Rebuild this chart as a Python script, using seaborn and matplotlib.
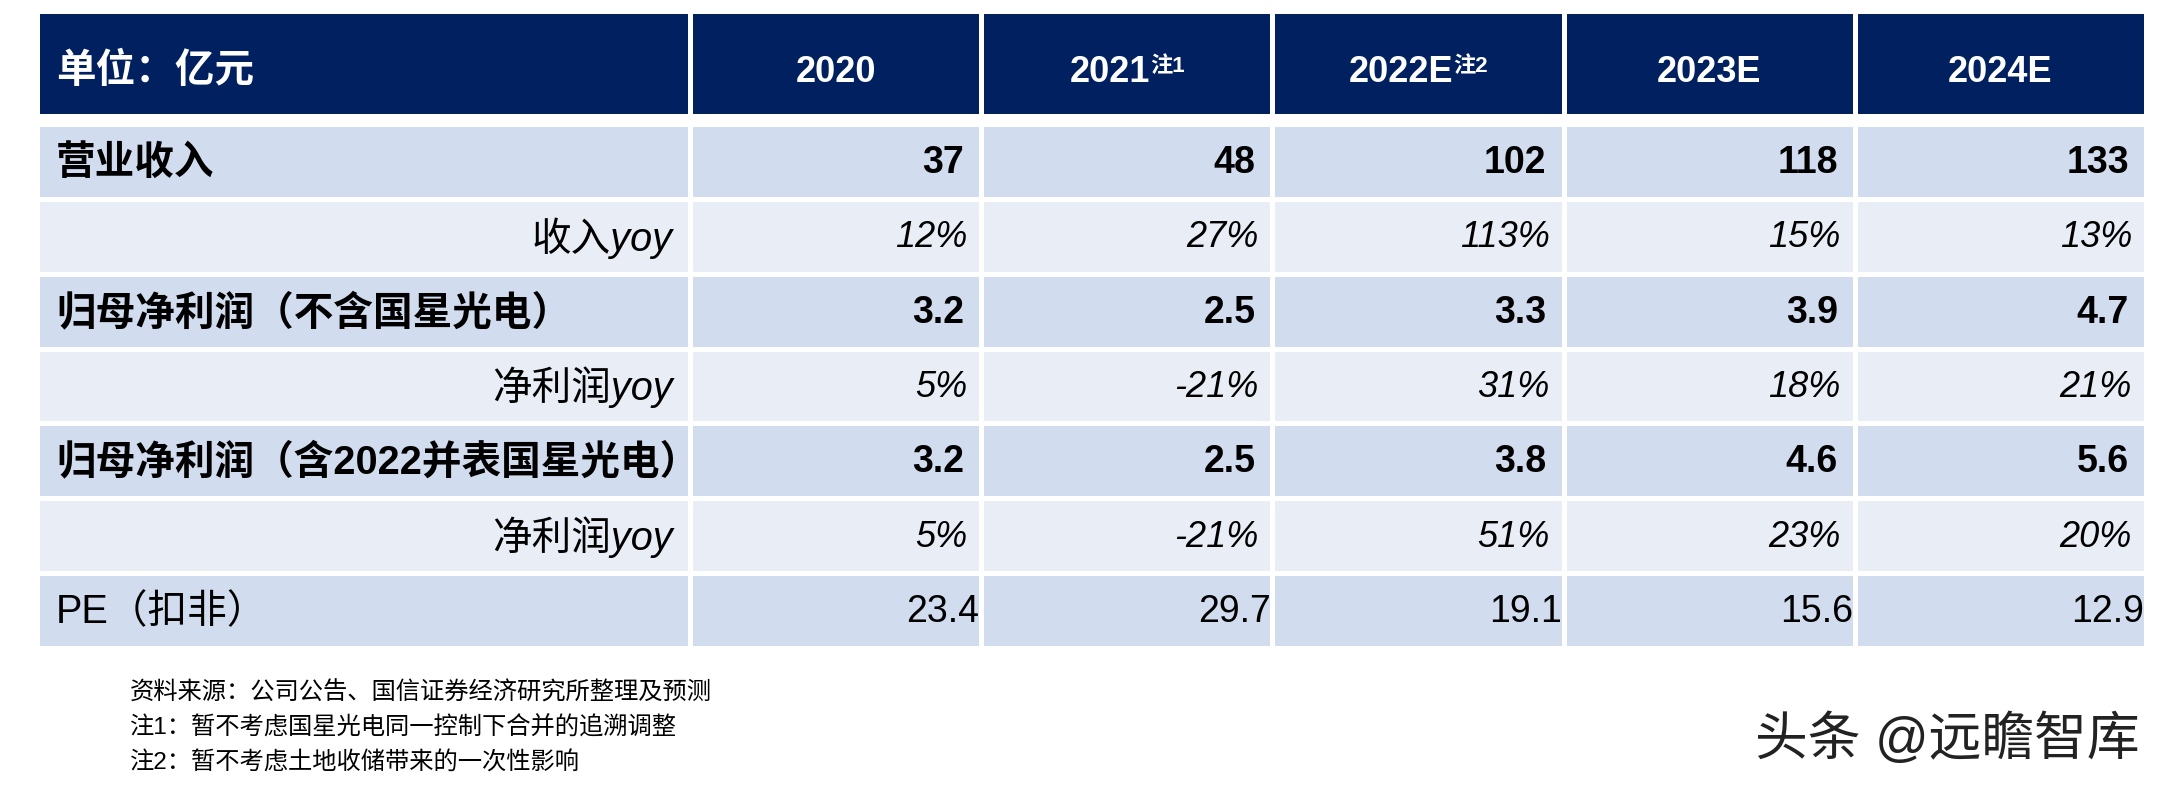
import numpy as np
import pandas as pd
import matplotlib
matplotlib.use("Agg")
import matplotlib.pyplot as plt
from matplotlib.colors import ListedColormap
import seaborn as sns

# ---------------- data ----------------
header_label = "单位：亿元"
years = ["2020", "2021", "2022E", "2023E", "2024E"]
year_notes = ["", "注1", "注2", "", ""]
row_labels = ["营业收入", "收入yoy", "归母净利润（不含国星光电）", "净利润yoy",
              "归母净利润（含2022并表国星光电）", "净利润yoy", "PE（扣非）"]
row_kind = ["main", "yoy", "main", "yoy", "main", "yoy", "pe"]
revenue = ["37", "48", "102", "118", "133"]
revenue_yoy = ["12%", "27%", "113%", "15%", "13%"]
np_excl = ["3.2", "2.5", "3.3", "3.9", "4.7"]
np_excl_yoy = ["5%", "-21%", "31%", "18%", "21%"]
np_incl = ["3.2", "2.5", "3.8", "4.6", "5.6"]
np_incl_yoy = ["5%", "-21%", "51%", "23%", "20%"]
pe_values = ["23.4", "29.7", "19.1", "15.6", "12.9"]
footnotes = ["资料来源：公司公告、国信证券经济研究所整理及预测",
             "注1：暂不考虑国星光电同一控制下合并的追溯调整",
             "注2：暂不考虑土地收储带来的一次性影响"]
watermark = "头条 @远瞻智库"

table_values = [revenue, revenue_yoy, np_excl, np_excl_yoy, np_incl, np_incl_yoy, pe_values]
row_band = [0, 1, 0, 1, 0, 1, 0]

# ---------------- style ----------------
NAVY = "#012060"
DARK = "#D1DCEE"
LIGHT = "#E8EDF6"
sns.set_theme(style="white")
plt.rcParams["font.family"] = ["Liberation Sans", "Noto Sans CJK SC", "DejaVu Sans"]

W, H = 2165, 788
fig = plt.figure(figsize=(W / 100, H / 100), dpi=100)


def add_ax(x0, y0, x1, y1):
    return fig.add_axes([x0 / W, 1 - y1 / H, (x1 - x0) / W, (y1 - y0) / H])


X0, XS, X1 = 37, 690, 2146
HY0, HY1 = 11, 116
BY0, BY1 = 124, 648
LW = 2.2

# ---------------- header ----------------
ax_hl = add_ax(X0, HY0, XS, HY1)
ax_hr = add_ax(XS, HY0, X1, HY1)
sns.heatmap(pd.DataFrame([[0]]), ax=ax_hl, cmap=ListedColormap([NAVY]), cbar=False,
            linewidths=LW, linecolor="white", xticklabels=False, yticklabels=False)
sns.heatmap(pd.DataFrame([[0] * len(years)], columns=years), ax=ax_hr,
            cmap=ListedColormap([NAVY]), cbar=False, linewidths=LW, linecolor="white",
            xticklabels=False, yticklabels=False)

hb = (82 - HY0) / (HY1 - HY0)
ax_hl.text(19 / (XS - X0), hb, header_label, ha="left", va="baseline",
           color="white", fontsize=28.5, fontweight="bold")

fig.canvas.draw()
renderer = fig.canvas.get_renderer()
col_w = (X1 - XS) / len(years)
for j, (yr, note) in enumerate(zip(years, year_notes)):
    t = ax_hr.text(j + 0.5, hb, yr, ha="center", va="baseline", color="white",
                   fontsize=26, fontweight="bold")
    if note:
        s = ax_hr.text(0, (72 - HY0) / (HY1 - HY0), note, ha="left", va="baseline",
                       color="white", fontsize=16, fontweight="bold")
        wm = t.get_window_extent(renderer).width
        ws = s.get_window_extent(renderer).width
        total = (wm + ws) / col_w
        t.set_ha("left")
        t.set_x(j + 0.5 - total / 2)
        s.set_x(j + 0.5 - total / 2 + wm / col_w)

# ---------------- body ----------------
ax_bl = add_ax(X0, BY0, XS, BY1)
ax_br = add_ax(XS, BY0, X1, BY1)
cmap_band = ListedColormap([DARK, LIGHT])
sns.heatmap(pd.DataFrame({"label": row_band}), ax=ax_bl, cmap=cmap_band, vmin=0, vmax=1,
            cbar=False, linewidths=LW, linecolor="white",
            xticklabels=False, yticklabels=False)
band_df = pd.DataFrame([[b] * len(years) for b in row_band], columns=years)
sns.heatmap(band_df, ax=ax_br, cmap=cmap_band, vmin=0, vmax=1, cbar=False,
            linewidths=LW, linecolor="white", xticklabels=False, yticklabels=False)

lw_px = XS - X0
for i, (lab, kind, vals) in enumerate(zip(row_labels, row_kind, table_values)):
    y = i + 0.52
    if kind == "main":
        ax_bl.text(19 / lw_px, y, lab, ha="left", va="center", fontsize=28.5,
                   fontweight="bold", color="black")
        vkw = dict(fontsize=27, fontweight="bold")
        pad = 17 / col_w
    elif kind == "yoy":
        ax_bl.text(1 - 17 / lw_px, y, lab, ha="right", va="center", fontsize=28.5,
                   style="italic", color="black")
        vkw = dict(fontsize=26, style="italic")
        pad = 14 / col_w
    else:
        ax_bl.text(19 / lw_px, y, lab, ha="left", va="center", fontsize=28.5,
                   color="black")
        vkw = dict(fontsize=27)
        pad = 2 / col_w
    for j, v in enumerate(vals):
        ax_br.text(j + 1 - pad, y, v, ha="right", va="center", color="black", **vkw)

for a in (ax_hl, ax_hr, ax_bl, ax_br):
    a.set_xticks([])
    a.set_yticks([])

# ---------------- footnotes & watermark ----------------
for k, (note, yc) in enumerate(zip(footnotes, [693, 728, 763])):
    fig.text(130 / W, 1 - yc / H, note, ha="left", va="center", fontsize=17.5,
             color="black")

fig.text(2140 / W, 1 - 740 / H, watermark, ha="right", va="center", fontsize=38,
         color="#222222", fontweight="medium")

fig.savefig("out.png", dpi=100, facecolor="white")
